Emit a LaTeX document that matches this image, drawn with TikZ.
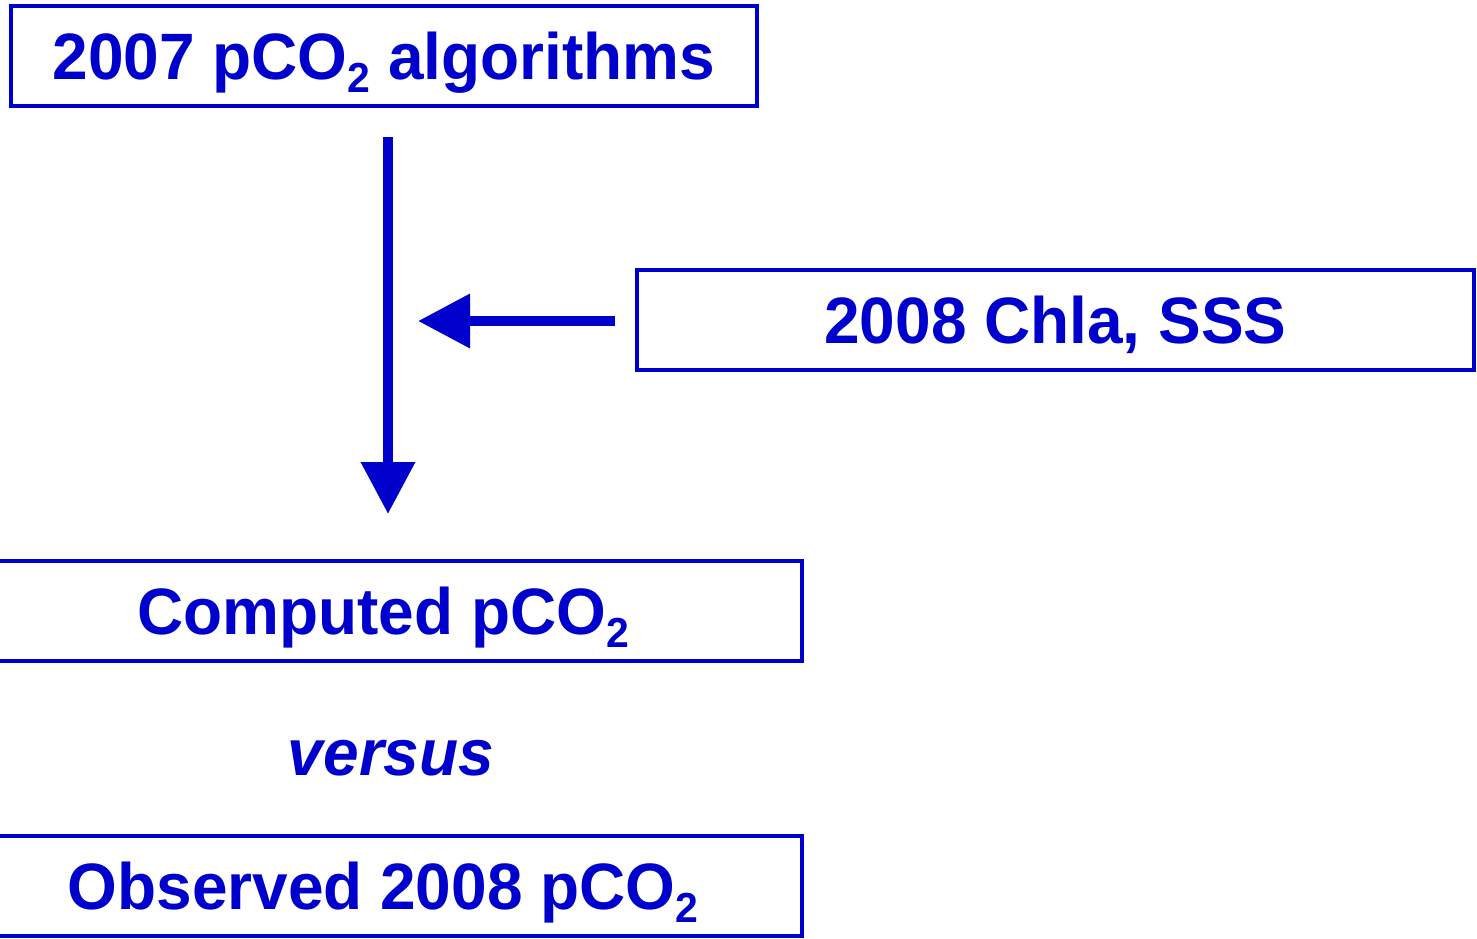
\documentclass[tikz,border=0pt]{standalone}
\usepackage{fontspec}
\setmainfont[FakeStretch=0.975]{Liberation Sans}
\usetikzlibrary{arrows.meta}
\definecolor{dblue}{RGB}{0,0,204}
\newcommand{\subtwo}{\raisebox{-13pt}{\fontsize{42}{42}\selectfont 2}}
\tikzset{
  box/.style={draw=dblue, line width=4pt, rectangle, inner sep=0pt,
    minimum height=100pt, text height=47pt, text depth=0pt,
    text=dblue, font=\fontsize{65.6}{70}\selectfont\bfseries},
  flow/.style={draw=dblue, line width=10pt,
    -{Triangle[length=52pt,width=52pt]}},
  lbl/.style={text=dblue, inner sep=0pt, font=\fontsize{65.6}{70}\selectfont\bfseries\itshape}
}
\begin{document}
\begin{tikzpicture}[x=1pt,y=-1pt]
\clip (0,0) rectangle (1477,938);
\node[box, minimum width=746pt] (alg) at (384,56) {2007 pCO\subtwo{} algorithms};
\node[box, minimum width=837pt] (chl) at (1055.5,320) {2008 Chla, SSS};
\node[box, minimum width=838pt] (comp) at (383,610.5) {Computed pCO\subtwo};
\node[lbl, anchor=base] (vs) at (391,775) {versus};
\node[box, minimum width=838pt] (obs) at (383,886) {Observed 2008 pCO\subtwo};
\coordinate (vstart) at (388,137);
\coordinate (vend) at (388,514);
\coordinate (hstart) at (615,321);
\coordinate (hend) at (418,321);
\draw[flow] (vstart) -- (vend);
\draw[flow] (hstart) -- (hend);
\end{tikzpicture}
\end{document}
